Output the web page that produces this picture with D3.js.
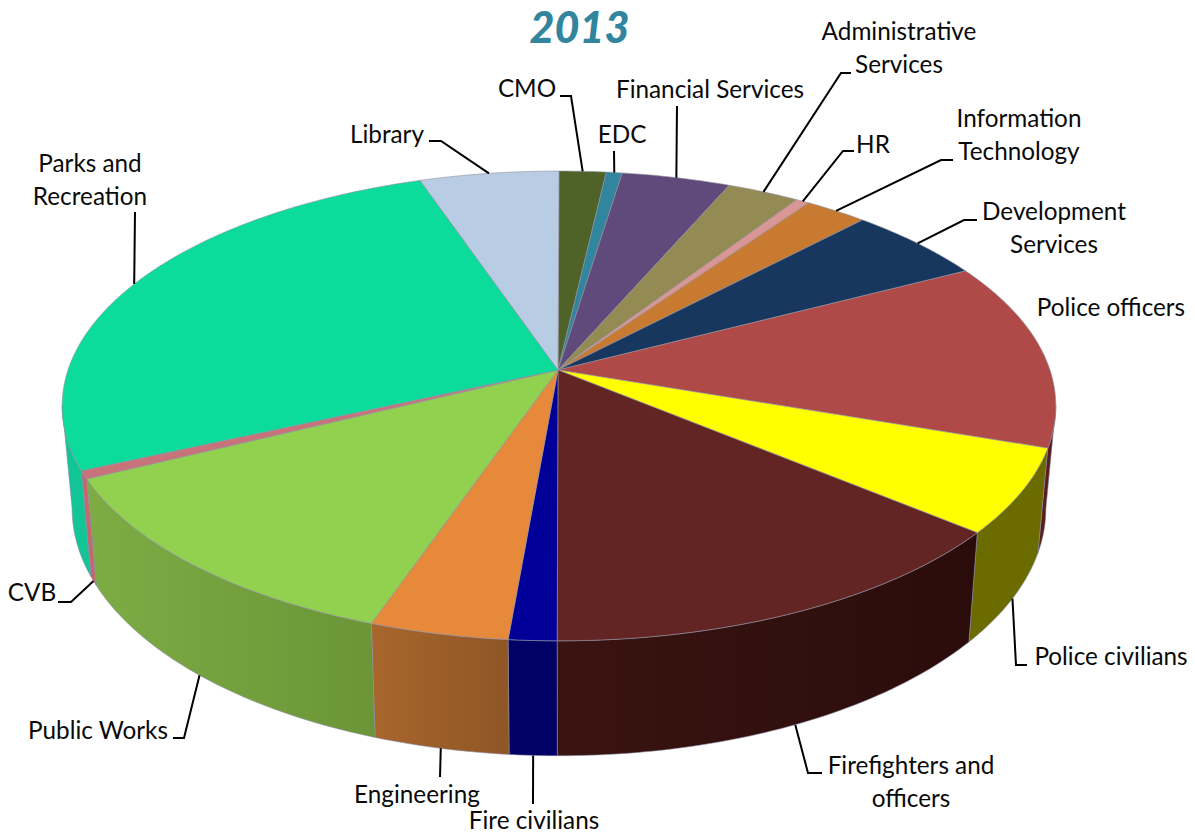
<!DOCTYPE html>
<html>
<head>
<meta charset="utf-8">
<script src="https://cdn.jsdelivr.net/npm/d3@7/dist/d3.min.js"></script>
<style>
  html, body { margin: 0; padding: 0; background: #fff; }
  svg { display: block; }
  text { font-family: Lato, "Open Sans", sans-serif; fill: #0a0a0a; }
</style>
</head>
<body>
<svg id="chart" width="1195" height="833"></svg>
<script>
// Share of the 2013 budget by department, clockwise from twelve o'clock.
const departments = ["CMO", "EDC", "Financial Services", "Administrative Services", "HR",
  "Information Technology", "Development Services", "Police officers", "Police civilians",
  "Firefighters and officers", "Fire civilians", "Engineering", "Public Works", "CVB",
  "Parks and Recreation", "Library"];
const shares = [1.77, 0.6, 4.1, 2.73, 0.5, 2.35, 5.3, 12.9, 5.8, 14.0, 1.35, 3.9, 12.4, 0.55, 26.5, 5.25];

const topColors = ["#4f6228", "#31859c", "#604a7b", "#948a54", "#d99694", "#c87b30", "#17375e", "#b04a48",
  "#ffff00", "#632523", "#000099", "#e6893b", "#92d050", "#c8727a", "#0bdb9b", "#b8cce4"];
const wallLeftColors = {7: "#5a1c1c", 8: "#6b6b00", 9: "#3a1410", 10: "#000066", 11: "#a8662c", 12: "#7dac44", 13: "#c4686e", 14: "#12c596"};
const wallRightColors = {7: "#5a1c1c", 8: "#6b6b00", 9: "#2a0c0b", 10: "#000066", 11: "#8f5626", 12: "#6b9537", 13: "#c4686e", 14: "#12c596"};

// Label placement: text lines with baselines, and the elbow the leader runs through.
const labelLayout = [
  {lines: [[527, 97, "CMO"]], leader: [[560, 96], [571, 96]]},
  {lines: [[622, 143, "EDC"]], leader: [[614, 151]]},
  {lines: [[710, 98, "Financial Services"]], leader: [[677, 106]]},
  {lines: [[899, 40, "Administrative"], [899, 73, "Services"]], leader: [[851, 73], [841, 73]]},
  {lines: [[873, 153, "HR"]], leader: [[854, 151], [843, 151]]},
  {lines: [[1019, 127, "Information"], [1019, 160, "Technology"]], leader: [[953, 160], [941, 160]]},
  {lines: [[1054, 220, "Development"], [1054, 253, "Services"]], leader: [[977, 220], [964, 220]]},
  {lines: [[1111, 316, "Police officers"]], leader: null},
  {lines: [[1111, 665, "Police civilians"]], leader: [[1027, 665], [1016, 665]], front: true},
  {lines: [[911, 774, "Firefighters and"], [911, 807, "officers"]], leader: [[822, 773], [808, 773]], front: true},
  {lines: [[534, 829, "Fire civilians"]], leader: [[533, 804]], front: true},
  {lines: [[417, 803, "Engineering"]], leader: [[440, 777]], front: true},
  {lines: [[98, 739, "Public Works"]], leader: [[173, 738], [184, 738]], front: true},
  {lines: [[32, 601, "CVB"]], leader: [[58, 602], [71, 602]], front: true},
  {lines: [[90, 172, "Parks and"], [90, 205, "Recreation"]], leader: [[135, 212]]},
  {lines: [[387, 143, "Library"]], leader: [[429, 141], [441, 141]]}
];

const svg = d3.select("#chart");
const defs = svg.append("defs");

// Perspective view of a flat disc: the far edge is compressed, the near edge stretched.
const apex = {x: 558, y: 370};
const view = {a: 491, b: 229.4, k: 0.153, depth: 100.6, depthPower: 0.8, shrink: 0.98, drift: 1};

function project(angle, radius, lower) {
  const u = Math.sin(angle) * radius;
  const v = -Math.cos(angle) * radius;
  const w = 1 - view.k * v;
  const x = view.a * u / w * (lower ? view.shrink : 1) + view.drift * radius;
  const y = view.b * v / w + (lower ? view.depth / Math.pow(w, view.depthPower) : 0);
  return [apex.x + x, apex.y + y];
}

const arcs = d3.pie().value(d => d).sort(null)(shares);
const outline = d3.line();
const step = Math.PI / 180;

function rim(a0, a1, lower) {
  const n = Math.max(2, Math.ceil((a1 - a0) / step));
  return d3.range(n + 1).map(i => project(a0 + (a1 - a0) * i / n, 1, lower));
}

// Side walls run between the two silhouette points of the disc, on the viewer's side.
const visibleFrom = Math.acos(-view.k), visibleTo = 2 * Math.PI - visibleFrom;
const walls = svg.append("g");
arcs.forEach((d, i) => {
  const a0 = Math.max(d.startAngle, visibleFrom);
  const a1 = Math.min(d.endAngle, visibleTo);
  if (a1 <= a0) return;
  const upper = rim(a0, a1, false);
  const lower = rim(a0, a1, true).reverse();
  const xs = upper.map(p => p[0]).concat(lower.map(p => p[0]));
  const id = "wall" + i;
  const grad = defs.append("linearGradient").attr("id", id)
    .attr("gradientUnits", "userSpaceOnUse")
    .attr("x1", d3.min(xs)).attr("x2", d3.max(xs)).attr("y1", 0).attr("y2", 0);
  grad.append("stop").attr("offset", 0).attr("stop-color", wallLeftColors[i]);
  grad.append("stop").attr("offset", 1).attr("stop-color", wallRightColors[i]);
  walls.append("path")
    .attr("d", outline(upper.concat(lower)) + "Z")
    .attr("fill", `url(#${id})`)
    .attr("stroke", "#8a8aa8").attr("stroke-opacity", 0.55).attr("stroke-width", 1);
});

// Top face of every slice.
svg.append("g").selectAll("path").data(arcs).join("path")
  .attr("d", d => outline([[apex.x, apex.y]].concat(rim(d.startAngle, d.endAngle, false))) + "Z")
  .attr("fill", (d, i) => topColors[i])
  .attr("stroke", "#8f8f9f").attr("stroke-opacity", 0.6).attr("stroke-width", 1)
  .attr("stroke-linejoin", "round");

// Leader lines end on the rim at each slice's mid angle.
svg.append("g").selectAll("path")
  .data(labelLayout.map((l, i) => ({l, d: arcs[i]})).filter(o => o.l.leader))
  .join("path")
  .attr("d", o => outline(o.l.leader.concat([project((o.d.startAngle + o.d.endAngle) / 2, 1, !!o.l.front)])))
  .attr("fill", "none").attr("stroke", "#000").attr("stroke-width", 2);

// Department labels.
svg.append("g").selectAll("text")
  .data(labelLayout.flatMap(l => l.lines))
  .join("text")
  .attr("x", d => d[0]).attr("y", d => d[1])
  .attr("text-anchor", "middle")
  .attr("font-size", 24.3)
  .text(d => d[2]);

svg.append("text")
  .attr("x", 579.5).attr("y", 43)
  .attr("text-anchor", "middle")
  .attr("font-size", 43).attr("font-weight", 900).attr("font-style", "italic")
  .style("fill", "#31859c")
  .text("2013");
</script>
</body>
</html>
